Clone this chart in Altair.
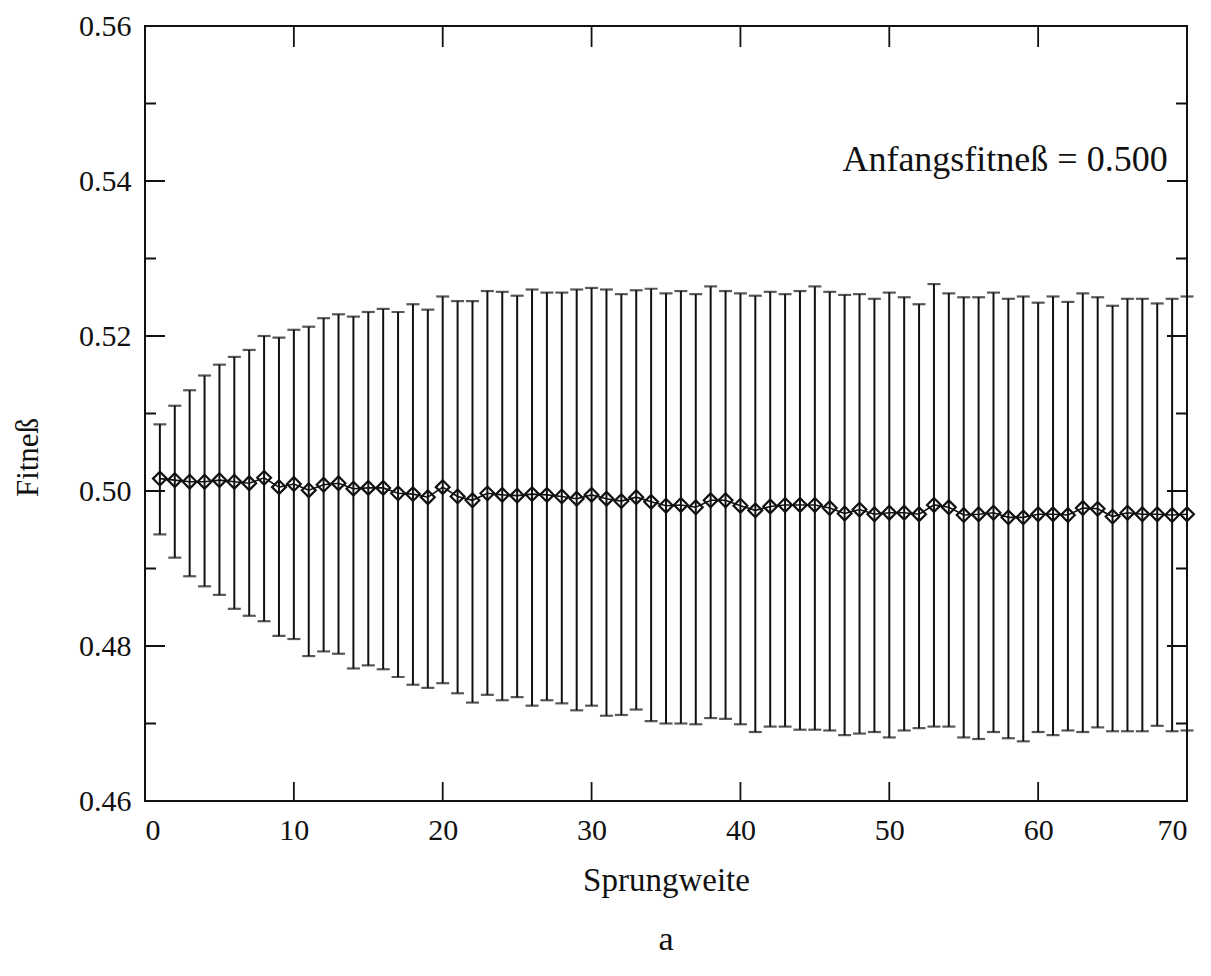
import altair as alt
import pandas as pd

# Sprungweite 1..70
sprungweite = list(range(1, 71))

mittel = [0.5016, 0.5014, 0.5012, 0.5012, 0.5014, 0.5012, 0.5010, 0.5017, 0.5005, 0.5009,
          0.5001, 0.5008, 0.5010, 0.5003, 0.5004, 0.5004, 0.4997, 0.4996, 0.4992, 0.5005,
          0.4993, 0.4988, 0.4997, 0.4995, 0.4994, 0.4996, 0.4995, 0.4993, 0.4990, 0.4995,
          0.4990, 0.4987, 0.4992, 0.4986, 0.4981, 0.4982, 0.4979, 0.4988, 0.4988, 0.4981,
          0.4975, 0.4980, 0.4982, 0.4982, 0.4982, 0.4978, 0.4971, 0.4976, 0.4970, 0.4972,
          0.4972, 0.4970, 0.4982, 0.4979, 0.4969, 0.4970, 0.4972, 0.4966, 0.4966, 0.4970,
          0.4970, 0.4969, 0.4978, 0.4977, 0.4967, 0.4972, 0.4970, 0.4970, 0.4969, 0.4970]

oben = [0.5086, 0.5110, 0.5130, 0.5149, 0.5163, 0.5173, 0.5182, 0.5200, 0.5198, 0.5208,
        0.5212, 0.5223, 0.5228, 0.5225, 0.5231, 0.5235, 0.5231, 0.5241, 0.5234, 0.5251,
        0.5245, 0.5245, 0.5258, 0.5257, 0.5252, 0.5260, 0.5256, 0.5256, 0.5260, 0.5262,
        0.5260, 0.5254, 0.5259, 0.5261, 0.5255, 0.5258, 0.5254, 0.5264, 0.5258, 0.5255,
        0.5252, 0.5257, 0.5254, 0.5258, 0.5264, 0.5257, 0.5253, 0.5254, 0.5248, 0.5256,
        0.5250, 0.5241, 0.5267, 0.5255, 0.5250, 0.5250, 0.5256, 0.5248, 0.5251, 0.5243,
        0.5251, 0.5244, 0.5255, 0.5250, 0.5239, 0.5248, 0.5248, 0.5242, 0.5248, 0.5251]

unten = [0.4944, 0.4914, 0.4890, 0.4877, 0.4866, 0.4848, 0.4839, 0.4832, 0.4813, 0.4809,
         0.4787, 0.4793, 0.4790, 0.4771, 0.4775, 0.4770, 0.4760, 0.4750, 0.4746, 0.4752,
         0.4739, 0.4727, 0.4737, 0.4730, 0.4734, 0.4723, 0.4730, 0.4726, 0.4717, 0.4723,
         0.4710, 0.4711, 0.4718, 0.4703, 0.4700, 0.4700, 0.4699, 0.4707, 0.4706, 0.4699,
         0.4689, 0.4696, 0.4696, 0.4692, 0.4692, 0.4691, 0.4685, 0.4687, 0.4689, 0.4682,
         0.4691, 0.4694, 0.4696, 0.4696, 0.4682, 0.4680, 0.4689, 0.4681, 0.4677, 0.4689,
         0.4685, 0.4691, 0.4689, 0.4695, 0.4690, 0.4690, 0.4690, 0.4697, 0.4690, 0.4691]

x_ticks = [0, 10, 20, 30, 40, 50, 60, 70]
x_inner_ticks = [10, 20, 30, 40, 50, 60]
y_major = [0.46, 0.48, 0.50, 0.52, 0.54, 0.56]
y_minor = [0.47, 0.49, 0.51, 0.53, 0.55]

W, H = 1042, 775
FONT = "Liberation Serif"
INK = "#111111"

df = pd.DataFrame({"k": sprungweite, "m": mittel, "hi": oben, "lo": unten})
df_xt = pd.DataFrame({"x": x_inner_ticks})
df_ymaj = pd.DataFrame({"y": y_major})
df_ymin = pd.DataFrame({"y": y_minor})

xs = alt.Scale(domain=[0, 70], nice=False, zero=False)
ys = alt.Scale(domain=[0.46, 0.56], nice=False, zero=False)

X = alt.X("k:Q", scale=xs,
          axis=alt.Axis(values=x_ticks, format="d", title="Sprungweite", ticks=False,
                        domain=False, grid=False, labelPadding=14, titlePadding=19))
Y = alt.Y("lo:Q", scale=ys,
          axis=alt.Axis(values=y_major, format=".2f", title="Fitneß", ticks=False,
                        domain=False, grid=False, labelPadding=14,
                        titleX=-117, titleY=431, titleAngle=270,
                        titleAlign="center", titleBaseline="middle"))

base = alt.Chart(df)

bars = base.mark_rule(color=INK, strokeWidth=2).encode(x=X, y=Y, y2="hi:Q")
cap_hi = base.mark_tick(orient="horizontal", size=13, thickness=2.2, color=INK).encode(
    x=alt.X("k:Q", scale=xs), y=alt.Y("hi:Q", scale=ys))
cap_lo = base.mark_tick(orient="horizontal", size=13, thickness=2.2, color=INK).encode(
    x=alt.X("k:Q", scale=xs), y=alt.Y("lo:Q", scale=ys))
line = base.mark_line(color=INK, strokeWidth=1.6).encode(
    x=alt.X("k:Q", scale=xs), y=alt.Y("m:Q", scale=ys))
pts = base.mark_point(shape="diamond", size=190, filled=False, strokeWidth=2.2, color=INK,
                      opacity=1).encode(
    x=alt.X("k:Q", scale=xs), y=alt.Y("m:Q", scale=ys))

# inward ticks on all four sides
def yticks(d, length):
    left = alt.Chart(d).mark_rule(color=INK, strokeWidth=2).encode(
        y=alt.Y("y:Q", scale=ys), x=alt.value(0), x2=alt.value(length))
    right = alt.Chart(d).mark_rule(color=INK, strokeWidth=2).encode(
        y=alt.Y("y:Q", scale=ys), x=alt.value(W), x2=alt.value(W - length))
    return left + right

xt_bottom = alt.Chart(df_xt).mark_rule(color=INK, strokeWidth=1.8).encode(
    x=alt.X("x:Q", scale=xs), y=alt.value(H), y2=alt.value(H - 19))
xt_top = alt.Chart(df_xt).mark_rule(color=INK, strokeWidth=1.8).encode(
    x=alt.X("x:Q", scale=xs), y=alt.value(0), y2=alt.value(21))

note = alt.Chart(pd.DataFrame({"x": [68.7], "y": [0.5427], "t": ["Anfangsfitneß = 0.500"]})).mark_text(
    align="right", baseline="middle", font=FONT, fontSize=36, color=INK).encode(
    x=alt.X("x:Q", scale=xs), y=alt.Y("y:Q", scale=ys), text="t:N")

chart = alt.layer(
    bars, cap_hi, cap_lo, line, pts,
    yticks(df_ymaj, 20), yticks(df_ymin, 11), xt_bottom, xt_top, note
).properties(
    width=W, height=H,
    title=alt.TitleParams("a", orient="bottom", font=FONT, fontSize=34, fontWeight="normal",
                          color=INK, offset=26),
    autosize=alt.AutoSizeParams(type="none"),
    padding={"left": 137, "top": 18, "right": 16, "bottom": 166},
).configure_view(
    stroke=INK, strokeWidth=2
).configure_axis(
    labelFont=FONT, titleFont=FONT, labelFontSize=30, titleFontSize=33,
    labelColor=INK, titleColor=INK, titleFontWeight="normal"
).configure_axisY(
    titleFontSize=31
)

chart.save("out.html", embed_options={"renderer": "svg", "actions": False})
